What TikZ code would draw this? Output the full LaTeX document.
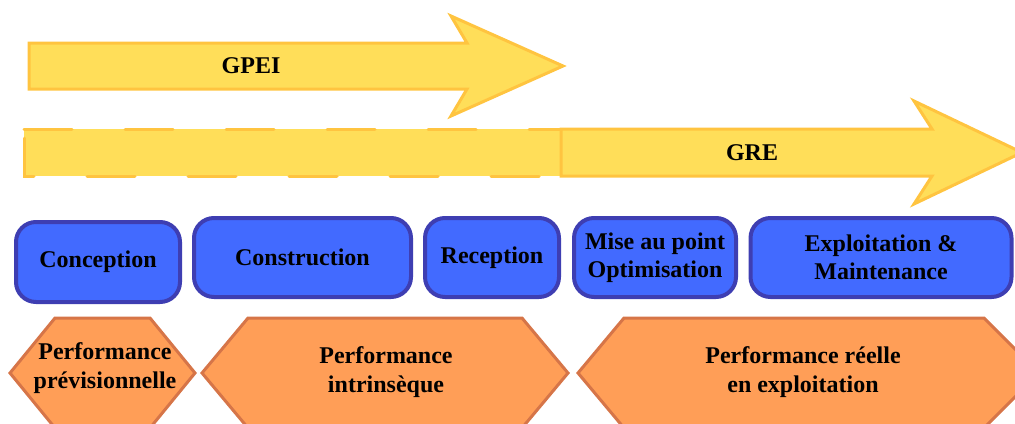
\documentclass[tikz,border=0pt]{standalone}
\usepackage{fontspec}
\setmainfont{Liberation Serif}
\definecolor{arrowfill}{RGB}{255,222,89}
\definecolor{arrowline}{RGB}{255,196,64}
\definecolor{phasefill}{RGB}{66,106,255}
\definecolor{phaseline}{RGB}{62,62,178}
\definecolor{perffill}{RGB}{255,158,87}
\definecolor{perfline}{RGB}{214,117,72}
\tikzset{
  bigarrow/.style={draw=arrowline, fill=arrowfill, line width=1.5pt, line join=miter},
  phasebox/.style={draw=phaseline, fill=phasefill, line width=2pt, rounded corners=10pt,
    align=center, font=\bfseries\fontsize{12}{14}\selectfont, inner sep=0pt},
  perfhex/.style={draw=perfline, fill=perffill, line width=1.5pt},
  txt/.style={align=center, font=\bfseries\fontsize{12}{14.5}\selectfont}
}
\begin{document}
\begin{tikzpicture}[x=0.5pt, y=-0.5pt]
  \useasboundingbox (0,0) rectangle (1015,423);
  \clip (0,0) rectangle (1015,423);

  \draw[bigarrow] (29,43) -- (467,43) -- (451,16) -- (563,66) -- (451,116) -- (467,89) -- (29,89) -- cycle;
  \node[txt] (gpei) at (251,66) {GPEI};

  \draw[draw=arrowline, fill=arrowfill, line width=1.5pt, line cap=round,
    dash pattern=on 24pt off 26.5pt] (24,129) -- (561,129) -- (561,176) -- (24,176) -- cycle;

  \draw[bigarrow] (561,129) -- (932,129) -- (914,101) -- (1022,152.5) -- (914,204) -- (932,176) -- (561,176) -- cycle;
  \node[txt] (gre) at (752,153) {GRE};

  \node[phasebox, minimum width=82pt, minimum height=40pt] (concep) at (98,262) {Conception};
  \node[phasebox, minimum width=108.5pt, minimum height=39.5pt] (constr) at (302.5,257.5) {Construction};
  \node[phasebox, minimum width=67pt, minimum height=39.5pt] (recep) at (492,257.5) {Reception};
  \node[phasebox, minimum width=81pt, minimum height=39.5pt] (miseau) at (655,257.5) {Mise au point\\Optimisation};
  \node[phasebox, minimum width=130.5pt, minimum height=39.5pt] (exploit) at (881,257.5) {Exploitation \&\\Maintenance};

  \draw[perfhex] (10,373) -- (55,318) -- (150,318) -- (195,373) -- (150,428) -- (55,428) -- cycle;
  \draw[perfhex] (202,373) -- (248,318) -- (522,318) -- (568,373) -- (522,428) -- (248,428) -- cycle;
  \draw[perfhex] (578,373) -- (624,318) -- (984,318) -- (1039,373) -- (984,428) -- (624,428) -- cycle;

  \node[txt] (perfprev) at (105,368) {Performance\\prévisionnelle};
  \node[txt] (perfintr) at (386,372) {Performance\\intrinsèque};
  \node[txt] (perfreel) at (803,372) {Performance réelle\\en exploitation};
\end{tikzpicture}
\end{document}
